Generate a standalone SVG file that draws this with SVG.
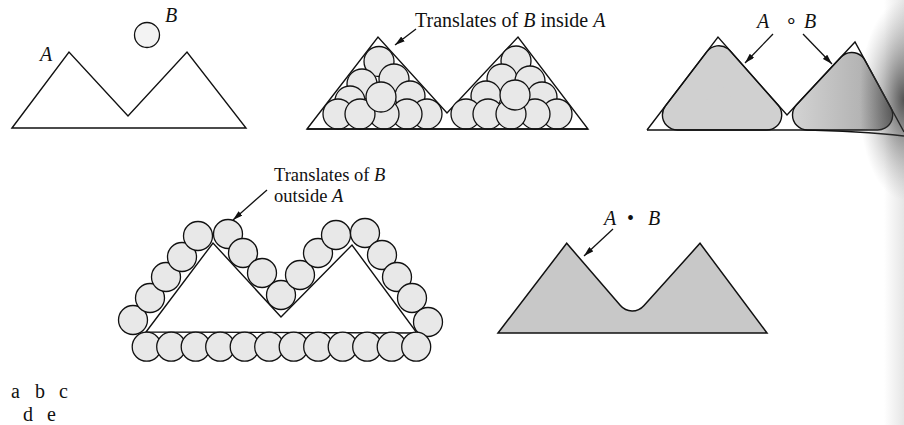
<svg xmlns="http://www.w3.org/2000/svg" width="904" height="425" viewBox="0 0 904 425">
<defs>
<style>
.ln{fill:none;stroke:#111;stroke-width:1.4;stroke-linejoin:miter}
.ball{fill:#e8e8e8;stroke:#111;stroke-width:1.3}
.t{font-family:"Liberation Serif","Times New Roman",serif;font-size:20px;fill:#111}
.i{font-style:italic}
.arr{fill:none;stroke:#111;stroke-width:1.3}
</style>
<marker id="ah" markerWidth="10" markerHeight="6" refX="10" refY="3" orient="auto" markerUnits="userSpaceOnUse"><path d="M0,0 L10,3 L0,6 Z" fill="#111"/></marker>
<linearGradient id="humpR" gradientUnits="userSpaceOnUse" x1="795" y1="0" x2="904" y2="0">
<stop offset="0" stop-color="#d2d2d2"/><stop offset="0.6" stop-color="#b4b4b4"/><stop offset="1" stop-color="#6a6a6a"/>
</linearGradient>
<radialGradient id="curl" gradientUnits="userSpaceOnUse" cx="904" cy="100" r="100" gradientTransform="translate(904 100) scale(0.45 1) translate(-904 -100)">
<stop offset="0" stop-color="#222" stop-opacity="0.75"/><stop offset="0.45" stop-color="#444" stop-opacity="0.4"/><stop offset="1" stop-color="#777" stop-opacity="0"/>
</radialGradient>
<linearGradient id="edge" x1="0" y1="0" x2="1" y2="0">
<stop offset="0" stop-color="#aaa" stop-opacity="0"/><stop offset="1" stop-color="#aaa" stop-opacity="0.3"/>
</linearGradient>
</defs>
<rect width="904" height="425" fill="#fff"/>
<rect x="884" y="0" width="20" height="425" fill="url(#edge)"/>

<g id="panel-a">
<path class="ln" d="M12,128 L69,52 L128,116 L187,52 L246,128 Z"/>
<circle class="ball" cx="147" cy="35" r="12.5" style="fill:#f3f3f3"/>
<text class="t i" x="40" y="61">A</text>
<text class="t i" x="165" y="22">B</text>
</g>

<g id="panel-b">
<path class="ln" d="M307,129 L378,37 L447,113 L518,37 L588,129 Z"/>
<g class="balls">
<circle class="ball" cx="379" cy="61.5" r="15"/>
<circle class="ball" cx="362" cy="84" r="15"/>
<circle class="ball" cx="394" cy="79" r="15"/>
<circle class="ball" cx="350" cy="101" r="15"/>
<circle class="ball" cx="410" cy="96" r="15"/>
<circle class="ball" cx="338" cy="114" r="15"/>
<circle class="ball" cx="427" cy="114" r="15"/>
<circle class="ball" cx="407" cy="114" r="15"/>
<circle class="ball" cx="384" cy="114" r="15"/>
<circle class="ball" cx="360" cy="114" r="15"/>
<circle class="ball" cx="381" cy="97" r="15"/>
<circle class="ball" cx="516" cy="61" r="15"/>
<circle class="ball" cx="502" cy="79" r="15"/>
<circle class="ball" cx="530" cy="81" r="15"/>
<circle class="ball" cx="486" cy="96" r="15"/>
<circle class="ball" cx="542" cy="97" r="15"/>
<circle class="ball" cx="466" cy="114" r="15"/>
<circle class="ball" cx="557" cy="114" r="15"/>
<circle class="ball" cx="535" cy="114" r="15"/>
<circle class="ball" cx="488" cy="114" r="15"/>
<circle class="ball" cx="511" cy="114" r="15"/>
<circle class="ball" cx="515" cy="95" r="15"/>
</g>
<path class="ln" d="M307,129 L588,129"/>
<text class="t" x="415" y="27">Translates of <tspan class="i">B</tspan> inside <tspan class="i">A</tspan></text>
</g>

<g id="panel-c">
<path d="M677.4,115 L718.8,60.7 L766.7,115 Z" fill="#111" stroke="#111" stroke-width="31.4" stroke-linejoin="round"/>
<path d="M677.4,115 L718.8,60.7 L766.7,115 Z" fill="#d0d0d0" stroke="#d0d0d0" stroke-width="28.6" stroke-linejoin="round"/>
<path d="M807.5,115 L851.8,67.5 L877.7,115 Z" fill="#111" stroke="#111" stroke-width="31.4" stroke-linejoin="round"/>
<path d="M807.5,115 L851.8,67.5 L877.7,115 Z" fill="url(#humpR)" stroke="url(#humpR)" stroke-width="28.6" stroke-linejoin="round"/>
<path class="ln" d="M647,130 L718,37 L787,115 L855,42 L904,132"/>
<path class="ln" d="M647,130 L800,130 Q860,131 904,136"/>
<text class="t" y="28"><tspan class="i" x="757">A</tspan><tspan x="785">∘</tspan><tspan class="i" x="804">B</tspan></text>
</g>
<rect x="850" y="0" width="54" height="210" fill="url(#curl)"/>

<g id="panel-d">
<path class="ln" d="M146,332 L213,243 L281,317 L352,245 L417,333 Z"/>
<g class="balls">
<circle class="ball" cx="133" cy="320" r="14.5"/>
<circle class="ball" cx="150" cy="298" r="14.5"/>
<circle class="ball" cx="166" cy="277" r="14.5"/>
<circle class="ball" cx="182" cy="257" r="14.5"/>
<circle class="ball" cx="198" cy="236" r="14.5"/>
<circle class="ball" cx="228" cy="234" r="14.5"/>
<circle class="ball" cx="243" cy="253" r="14.5"/>
<circle class="ball" cx="262" cy="273" r="14.5"/>
<circle class="ball" cx="281" cy="295" r="14.5"/>
<circle class="ball" cx="300" cy="275" r="14.5"/>
<circle class="ball" cx="318" cy="253" r="14.5"/>
<circle class="ball" cx="336" cy="235" r="14.5"/>
<circle class="ball" cx="365" cy="233" r="14.5"/>
<circle class="ball" cx="382" cy="255" r="14.5"/>
<circle class="ball" cx="397" cy="277" r="14.5"/>
<circle class="ball" cx="412" cy="298" r="14.5"/>
<circle class="ball" cx="428" cy="322" r="14.5"/>
<circle class="ball" cx="146.7" cy="346.7" r="14.5"/>
<circle class="ball" cx="171.2" cy="346.7" r="14.5"/>
<circle class="ball" cx="195.7" cy="346.7" r="14.5"/>
<circle class="ball" cx="220.2" cy="346.7" r="14.5"/>
<circle class="ball" cx="244.7" cy="346.7" r="14.5"/>
<circle class="ball" cx="269.2" cy="346.7" r="14.5"/>
<circle class="ball" cx="293.7" cy="346.7" r="14.5"/>
<circle class="ball" cx="318.2" cy="346.7" r="14.5"/>
<circle class="ball" cx="342.7" cy="346.7" r="14.5"/>
<circle class="ball" cx="367.2" cy="346.7" r="14.5"/>
<circle class="ball" cx="391.7" cy="346.7" r="14.5"/>
<circle class="ball" cx="416.2" cy="346.7" r="14.5"/>
</g>
<text class="t" x="274" y="181" style="font-size:18.5px">Translates of <tspan class="i">B</tspan></text>
<text class="t" x="274" y="202" style="font-size:18.5px">outside <tspan class="i">A</tspan></text>
</g>

<g id="panel-e">
<path d="M498,333 L566.7,243.3 L620.4,305.6 A15.5,15.5 0 0 0 643.8,305.8 L700,243.3 L767,333 Z" fill="#c8c8c8" stroke="#111" stroke-width="1.5" stroke-linejoin="miter"/>
<text class="t" y="225"><tspan class="i" x="604">A</tspan><tspan x="627">•</tspan><tspan class="i" x="648">B</tspan></text>
</g>

<g id="connectors">
<line class="arr" x1="416" y1="29" x2="395" y2="45" marker-end="url(#ah)"/>
<line class="arr" x1="773" y1="34" x2="745" y2="63" marker-end="url(#ah)"/>
<line class="arr" x1="803" y1="34" x2="832" y2="64" marker-end="url(#ah)"/>
<line class="arr" x1="267" y1="190" x2="233" y2="220" marker-end="url(#ah)"/>
<line class="arr" x1="613" y1="229" x2="584" y2="256" marker-end="url(#ah)"/>
</g>

<g id="sublabels">
<text class="t" x="11" y="398">a</text>
<text class="t" x="35" y="398">b</text>
<text class="t" x="59" y="398">c</text>
<text class="t" x="23" y="421">d</text>
<text class="t" x="47" y="421">e</text>
</g>
</svg>
